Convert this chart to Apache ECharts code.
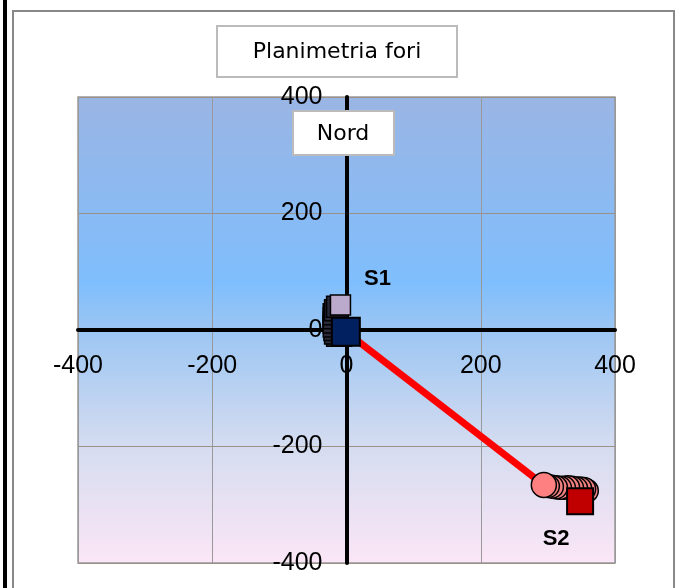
<!DOCTYPE html>
<html>
<head>
<meta charset="utf-8">
<script src="https://cdn.jsdelivr.net/npm/echarts@6/dist/echarts.min.js"></script>
<style>
html,body{margin:0;padding:0;background:#fff;}
#c{width:681px;height:588px;}
</style>
</head>
<body>
<div id="c"></div>
<script>
// ---- data ----
var titleText = "Planimetria fori";
var northText = "Nord";
var axisMin = -400, axisMax = 400, axisStep = 200;
// S1 hole (near origin)
var s1Start = [[-9, 43]];
var s1Trail = [[-8,-10],[-14,-10],[-17,-6],[-18,0],[-19,6],[-19,13],[-19,20],[-19,27],[-17,34],[-14,40]];
var s1End = [[-1, -3]];
// S2 hole
var s2Start = [[294, -266]];
var s2Trail = [[358,-276],[354,-273],[348,-272],[342,-272],[336,-271],[330,-270],[324,-271],[318,-271],[312,-270],[306,-269],[300,-268]];
var s2End = [[348, -294]];
// link between heads
var linkLine = [[-1, -3], [294, -266]];

var W = 681, H = 588;
var gridL = 78, gridR = 66, gridT = 97, gridB = 25;
var gridW = W - gridL - gridR, gridH = H - gridT - gridB;

var chart = echarts.init(document.getElementById('c'), null, {renderer: 'canvas'});
var bgGrad = new echarts.graphic.LinearGradient(0, 0, 0, 1, [
  {offset: 0, color: '#9AB5E4'},
  {offset: 0.4, color: '#7FBEFD'},
  {offset: 0.5, color: '#9CC6F3'},
  {offset: 0.75, color: '#D5DCF0'},
  {offset: 1, color: '#FBE6F6'}
]);
function axisLab() {
  return {margin: 24, showMinLabel: true, showMaxLabel: true, fontFamily: 'Liberation Sans', fontSize: 25, color: '#000'};
}
var lblStyle = {fontFamily: 'Liberation Sans', fontWeight: 'bold', fontSize: 22, color: '#000'};
chart.setOption({
  animation: false,
  backgroundColor: '#fff',
  grid: {left: gridL, right: gridR, top: gridT, bottom: gridB, containLabel: false, outerBoundsMode: 'none',
    show: true, backgroundColor: bgGrad, borderColor: '#999', borderWidth: 1.5},
  xAxis: {
    type: 'value', min: axisMin, max: axisMax, interval: axisStep, position: 'bottom',
    offset: -gridH / 2,
    axisLine: {onZero: false, lineStyle: {color: '#000', width: 4}},
    axisTick: {show: false},
    axisLabel: axisLab(),
    splitLine: {show: true, lineStyle: {color: '#999', width: 1}}
  },
  yAxis: {
    type: 'value', min: axisMin, max: axisMax, interval: axisStep, position: 'left',
    offset: -gridW / 2,
    axisLine: {onZero: false, lineStyle: {color: '#000', width: 4}},
    axisTick: {show: false},
    axisLabel: axisLab(),
    splitLine: {show: true, lineStyle: {color: '#9a9088', width: 1}}
  },
  graphic: [
    {type: 'rect', shape: {x: 3, y: 0, width: 4, height: 588}, style: {fill: '#000'}, z: 100},
    {type: 'rect', shape: {x: 13, y: 11, width: 661, height: 600}, style: {fill: 'none', stroke: '#888', lineWidth: 2}, z: 100},
    {type: 'rect', shape: {x: 217, y: 26, width: 240, height: 51}, style: {fill: '#fff', stroke: '#bbb', lineWidth: 2}, z: 100},
    {type: 'text', x: 337, y: 52, style: {text: titleText, fill: '#000', fontSize: 22, fontFamily: 'DejaVu Sans', align: 'center', verticalAlign: 'middle'}, z: 101},
    {type: 'rect', shape: {x: 293, y: 111, width: 101, height: 44}, style: {fill: '#fff', stroke: '#bbb', lineWidth: 2}, z: 100},
    {type: 'text', x: 343, y: 134, style: {text: northText, fill: '#000', fontSize: 22, fontFamily: 'DejaVu Sans', align: 'center', verticalAlign: 'middle'}, z: 101}
  ],
  series: [
    {type: 'line', data: linkLine, symbol: 'none', lineStyle: {color: '#FF0000', width: 7}, z: 2},
    {type: 'scatter', data: s1Trail, symbol: 'rect', symbolSize: 21, itemStyle: {color: '#2a2a3a', borderColor: '#000', borderWidth: 1.5, opacity: 1}, z: 3},
    {type: 'scatter', data: s1Start, symbol: 'rect', symbolSize: 20, itemStyle: {color: '#BBAACC', borderColor: '#000', borderWidth: 1.5, opacity: 1},
      label: Object.assign({show: true, formatter: 'S1', position: 'top', offset: [37, 1]}, lblStyle), z: 4},
    {type: 'scatter', data: s1End, symbol: 'rect', symbolSize: 28, itemStyle: {color: '#002060', borderColor: '#000', borderWidth: 2, opacity: 1}, z: 5},
    {type: 'scatter', data: s2Trail, symbol: 'circle', symbolSize: 23, itemStyle: {color: '#F08080', borderColor: '#000', borderWidth: 1.5, opacity: 1}, z: 3},
    {type: 'scatter', data: s2Start, symbol: 'circle', symbolSize: 25, itemStyle: {color: '#FF8080', borderColor: '#000', borderWidth: 1.5, opacity: 1}, z: 4},
    {type: 'scatter', data: s2End, symbol: 'rect', symbolSize: 26, itemStyle: {color: '#C00000', borderColor: '#000', borderWidth: 2, opacity: 1},
      label: Object.assign({show: true, formatter: 'S2', position: 'bottom', offset: [-24, 8]}, lblStyle), z: 5}
  ]
});
</script>
</body>
</html>
